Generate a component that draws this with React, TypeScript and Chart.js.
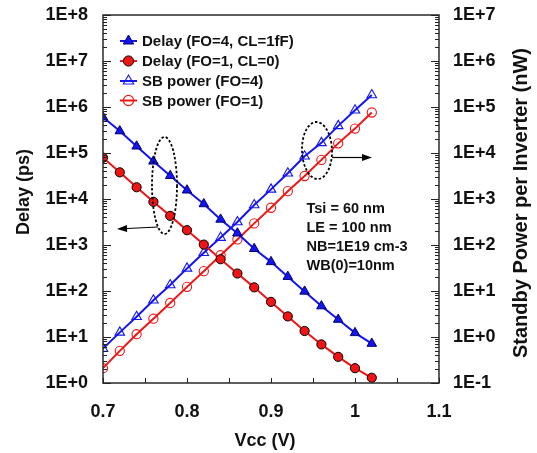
import React, { useEffect, useRef } from "react";
import { Chart, registerables } from "chart.js";

Chart.register(...registerables);

const FONT = 'Arial, "Liberation Sans", Helvetica, sans-serif';

const vcc = [0.70, 0.72, 0.74, 0.76, 0.78, 0.80, 0.82, 0.84, 0.86, 0.88, 0.90, 0.92, 0.94, 0.96, 0.98, 1.00, 1.02];
// Delay (ps), left axis
const delayFO4 = [6.0e5, 3.0e5, 1.4e5, 6.6e4, 3.2e4, 1.55e4, 7.8e3, 3.6e3, 1.8e3, 830, 430, 205, 98, 47, 24, 12.3, 7.2];
const delayFO1 = [7.9e4, 3.8e4, 1.8e4, 8.7e3, 4.3e3, 2.1e3, 1.02e3, 490, 240, 120, 58, 28, 13.5, 6.9, 3.7, 2.1, 1.3];
// Standby power (nW), right axis
const sbPowerFO4 = [0.56, 1.26, 2.75, 6.3, 13.5, 31, 68, 145, 316, 740, 1620, 3630, 8500, 16600, 38900, 85000, 182000];
const sbPowerFO1 = [0.21, 0.5, 1.15, 2.5, 5.5, 12.3, 27, 60, 132, 295, 645, 1480, 3160, 7080, 16200, 33900, 75900];

const xTicks = [0.7, 0.8, 0.9, 1.0, 1.1];
const xMinorTicks = [0.75, 0.85, 0.95, 1.05];
const leftDecades = [1, 10, 100, 1e3, 1e4, 1e5, 1e6, 1e7, 1e8];
const rightDecades = [0.1, 1, 10, 100, 1e3, 1e4, 1e5, 1e6, 1e7];

const legendLabels = ["Delay (FO=4, CL=1fF)", "Delay (FO=1, CL=0)", "SB power (FO=4)", "SB power (FO=1)"];
const noteLines = ["Tsi = 60 nm", "LE = 100 nm", "NB=1E19 cm-3", "WB(0)=10nm"];
const xTitle = "Vcc (V)";
const yTitle = "Delay (ps)";
const y2Title = "Standby Power per Inverter (nW)";

const BLUE = "#1414f0";
const RED = "#f01414";

function expLabel(v: number) {
  const e = Math.round(Math.log10(v));
  return "1E" + (e >= 0 ? "+" : "-") + Math.abs(e);
}

function drawMarker(ctx: CanvasRenderingContext2D, style: string, x: number, y: number, r: number, fill: string, stroke: string, lw: number) {
  ctx.beginPath();
  if (style === "triangle") {
    ctx.moveTo(x, y - r);
    ctx.lineTo(x + r * Math.sin(2 * Math.PI / 3), y - r * Math.cos(2 * Math.PI / 3));
    ctx.lineTo(x + r * Math.sin(4 * Math.PI / 3), y - r * Math.cos(4 * Math.PI / 3));
    ctx.closePath();
  } else {
    ctx.arc(x, y, r, 0, Math.PI * 2);
  }
  if (fill !== "transparent") {
    ctx.fillStyle = fill;
    ctx.fill();
  }
  ctx.lineWidth = lw;
  ctx.strokeStyle = stroke;
  ctx.stroke();
}

function arrow(ctx: CanvasRenderingContext2D, x1: number, y1: number, x2: number, y2: number) {
  ctx.save();
  ctx.strokeStyle = "#000";
  ctx.fillStyle = "#000";
  ctx.lineWidth = 1.2;
  const ang = Math.atan2(y2 - y1, x2 - x1);
  const hl = 10, hw = 3.5;
  const bx = x2 - hl * Math.cos(ang), by = y2 - hl * Math.sin(ang);
  ctx.beginPath();
  ctx.moveTo(x1, y1);
  ctx.lineTo(bx, by);
  ctx.stroke();
  ctx.beginPath();
  ctx.moveTo(x2, y2);
  ctx.lineTo(bx - hw * Math.sin(ang), by + hw * Math.cos(ang));
  ctx.lineTo(bx + hw * Math.sin(ang), by - hw * Math.cos(ang));
  ctx.closePath();
  ctx.fill();
  ctx.restore();
}

const decorPlugin = {
  id: "decor",
  afterDraw(chart: any) {
    const ctx: CanvasRenderingContext2D = chart.ctx;
    const { left, right, top, bottom } = chart.chartArea;
    const xs = chart.scales.x, ys = chart.scales.y, y2s = chart.scales.y2;
    ctx.save();

    // frame
    ctx.strokeStyle = "#2a2a2a";
    ctx.lineWidth = 1.5;
    ctx.strokeRect(left, top, right - left, bottom - top);

    // ticks
    ctx.lineWidth = 1;
    ctx.strokeStyle = "#222";
    ctx.beginPath();
    for (const v of [...xTicks, ...xMinorTicks]) {
      const px = Math.round(xs.getPixelForValue(v)) + 0.5;
      ctx.moveTo(px, bottom);
      ctx.lineTo(px, bottom - 5);
    }
    const logTicks = (scale: any, decades: number[], x0: number, dir: number) => {
      for (let i = 0; i < decades.length; i++) {
        const d = decades[i];
        const py = Math.round(scale.getPixelForValue(d)) + 0.5;
        ctx.moveTo(x0, py);
        ctx.lineTo(x0 + dir * 8, py);
        if (i < decades.length - 1) {
          for (let m = 2; m <= 9; m++) {
            const pm = Math.round(scale.getPixelForValue(d * m)) + 0.5;
            ctx.moveTo(x0, pm);
            ctx.lineTo(x0 + dir * 4, pm);
          }
        }
      }
    };
    logTicks(ys, leftDecades, left, 1);
    logTicks(y2s, rightDecades, right, -1);
    ctx.stroke();

    // titles
    ctx.fillStyle = "#111";
    ctx.font = `bold 18px ${FONT}`;
    ctx.textAlign = "center";
    ctx.textBaseline = "middle";
    ctx.fillText(xTitle, 265, 441);
    ctx.save();
    ctx.translate(24, 192);
    ctx.rotate(-Math.PI / 2);
    ctx.fillText(yTitle, 0, 0);
    ctx.restore();
    ctx.save();
    ctx.translate(521, 203);
    ctx.rotate(-Math.PI / 2);
    ctx.font = `bold 20px ${FONT}`;
    ctx.fillText(y2Title, 0, 0);
    ctx.restore();

    // legend
    const ds = chart.data.datasets;
    ctx.font = `bold 15px ${FONT}`;
    ctx.textAlign = "left";
    const ly = [41, 61, 81, 100.5];
    for (let i = 0; i < ds.length; i++) {
      const d = ds[i];
      ctx.strokeStyle = d.borderColor;
      ctx.lineWidth = 2;
      ctx.beginPath();
      ctx.moveTo(120, ly[i]);
      ctx.lineTo(137, ly[i]);
      ctx.stroke();
      drawMarker(ctx, d.pointStyle, 128.5, ly[i], d.pointRadius + 0.5, d.pointBackgroundColor, d.pointBorderColor, d.pointBorderWidth);
      ctx.fillStyle = "#111";
      ctx.fillText(legendLabels[i], 142, ly[i] + 1);
    }

    // notes
    ctx.font = `bold 14.5px ${FONT}`;
    const ny = [208.5, 227.5, 247, 266];
    noteLines.forEach((t, i) => ctx.fillText(t, 306.5, ny[i]));

    // dashed ellipses
    ctx.setLineDash([2.5, 2]);
    ctx.lineWidth = 1.8;
    ctx.strokeStyle = "#000";
    ctx.beginPath();
    ctx.ellipse(164.5, 185.5, 12.5, 48.5, 0, 0, Math.PI * 2);
    ctx.stroke();
    ctx.beginPath();
    ctx.ellipse(317, 150.5, 15, 28.5, -0.03, 0, Math.PI * 2);
    ctx.stroke();
    ctx.setLineDash([]);

    arrow(ctx, 158, 227, 117, 229);
    arrow(ctx, 332, 157.5, 372, 157.5);

    ctx.restore();
  },
};

export default function App() {
  const ref = useRef<HTMLCanvasElement>(null);
  useEffect(() => {
    if (!ref.current) return;
    const pts = (arr: number[]) => vcc.map((x, i) => ({ x, y: arr[i] }));
    const hiddenGrid = (len: number) => ({
      display: true, drawOnChartArea: false, drawTicks: true, tickLength: len, color: "rgba(0,0,0,0)",
    });
    const chart = new Chart(ref.current, {
      type: "line",
      data: {
        datasets: [
          {
            label: legendLabels[0], data: pts(delayFO4), yAxisID: "y",
            borderColor: BLUE, borderWidth: 2, pointStyle: "triangle", pointRadius: 5.5,
            pointBackgroundColor: BLUE, pointBorderColor: "#000070", pointBorderWidth: 1,
          },
          {
            label: legendLabels[1], data: pts(delayFO1), yAxisID: "y",
            borderColor: RED, borderWidth: 2, pointStyle: "circle", pointRadius: 4.6,
            pointBackgroundColor: RED, pointBorderColor: "#000", pointBorderWidth: 1,
          },
          {
            label: legendLabels[2], data: pts(sbPowerFO4), yAxisID: "y2",
            borderColor: BLUE, borderWidth: 2, pointStyle: "triangle", pointRadius: 5.5,
            pointBackgroundColor: "transparent", pointBorderColor: BLUE, pointBorderWidth: 1.1,
          },
          {
            label: legendLabels[3], data: pts(sbPowerFO1), yAxisID: "y2",
            borderColor: RED, borderWidth: 2, pointStyle: "circle", pointRadius: 4.6,
            pointBackgroundColor: "transparent", pointBorderColor: RED, pointBorderWidth: 1.1,
          },
        ] as any,
      },
      options: {
        animation: false,
        responsive: false,
        devicePixelRatio: 1,
        layout: { padding: { top: 15, left: 0, right: 0, bottom: 0 } },
        plugins: { legend: { display: false }, tooltip: { enabled: false } },
        elements: { line: { tension: 0 } },
        scales: {
          x: {
            type: "linear", min: 0.7, max: 1.1,
            grid: { display: false }, border: { display: false },
            afterFit: (s: any) => { s.height = 70; },
            afterBuildTicks: (s: any) => { s.ticks = xTicks.map((v) => ({ value: v })); },
            ticks: {
              padding: 10, color: "#111", font: { family: FONT, size: 18, weight: "bold" },
              callback: (v: any) => String(Number(Number(v).toFixed(2))),
            },
          },
          y: {
            type: "logarithmic", position: "left", min: 1, max: 1e8,
            grid: hiddenGrid(15), border: { display: false },
            afterFit: (s: any) => { s.width = 103; },
            afterBuildTicks: (s: any) => { s.ticks = leftDecades.map((v) => ({ value: v })); },
            ticks: {
              padding: 0, color: "#111", font: { family: FONT, size: 18, weight: "bold" },
              callback: (v: any) => expLabel(Number(v)),
            },
          },
          y2: {
            type: "logarithmic", position: "right", min: 0.1, max: 1e7,
            grid: hiddenGrid(14), border: { display: false },
            afterFit: (s: any) => { s.width = 98; },
            afterBuildTicks: (s: any) => { s.ticks = rightDecades.map((v) => ({ value: v })); },
            ticks: {
              padding: 0, color: "#111", font: { family: FONT, size: 18, weight: "bold" },
              callback: (v: any) => expLabel(Number(v)),
            },
          },
        },
      } as any,
      plugins: [decorPlugin],
    });
    return () => chart.destroy();
  }, []);
  return (
    <div style={{ position: "absolute", left: 0, top: 0, width: 537, height: 453, background: "#fff" }}>
      <canvas ref={ref} width={537} height={453} style={{ width: 537, height: 453, display: "block" }} />
    </div>
  );
}
